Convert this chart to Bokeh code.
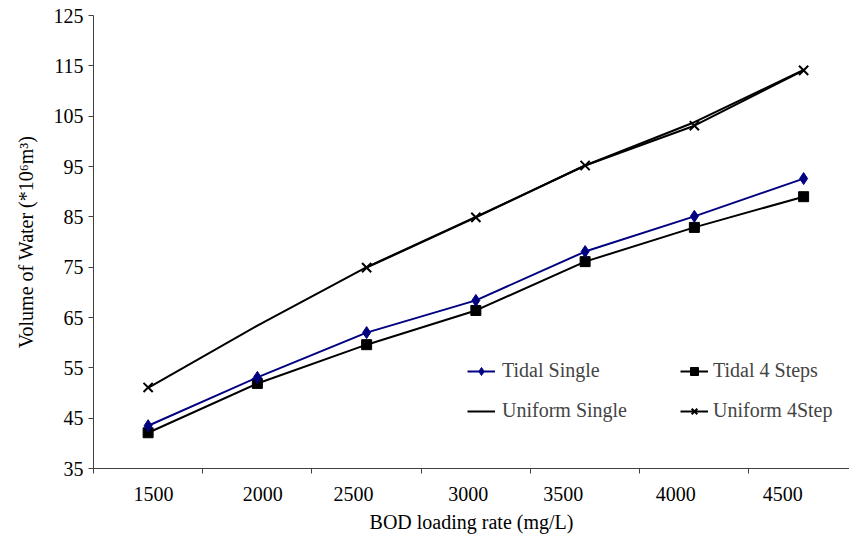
from bokeh.plotting import figure
from bokeh.models import FixedTicker, Legend, LegendItem
from bokeh.embed import file_html
from bokeh.resources import INLINE

nan = float("nan")

categories = ["1500", "2000", "2500", "3000", "3500", "4000", "4500"]
tidal_single = [43.5, 53.1, 62.0, 68.4, 78.1, 85.1, 92.6]
tidal_4steps = [42.1, 51.9, 59.6, 66.4, 76.1, 82.9, 89.0]
uniform_single = [51.0, 63.4, 75.0, 85.0, 95.2, 103.8, 114.2]
uniform_4step = [51.1, nan, 74.9, 84.9, 95.2, 103.1, 114.1]
y_ticks = [35, 45, 55, 65, 75, 85, 95, 105, 115, 125]

# category centres on a numeric axis (one unit per category)
xs = [i + 0.5 for i in range(len(categories))]
# label positions as placed in the reference picture
label_pos = [0.55, 1.55, 2.38, 3.43, 4.30, 5.33, 6.31]
boundaries = list(range(len(categories)))

FONT = "Liberation Serif"

p = figure(width=849, height=540, frame_width=756, frame_height=453,
           x_range=(0, 6.92), y_range=(35, 125),
           output_backend="svg", toolbar_location=None,
           min_border_left=93, min_border_right=0, min_border_top=15,
           min_border_bottom=72)
p.outline_line_color = None
p.xgrid.visible = False
p.ygrid.visible = False
p.background_fill_color = "white"
p.border_fill_color = "white"

r_us = p.line(xs, uniform_single, line_color="black", line_width=2)
r_u4l = p.line(xs, uniform_4step, line_color="black", line_width=2)
r_u4m = p.scatter(xs, uniform_4step, marker="x", size=13, line_color="black", line_width=2)
r_t4l = p.line(xs, tidal_4steps, line_color="black", line_width=2)
r_t4m = p.scatter(xs, tidal_4steps, marker="square", size=10, fill_color="black", line_color="black")
r_tsl = p.line(xs, tidal_single, line_color="#000080", line_width=2)
r_tsm = p.scatter(xs, tidal_single, marker="diamond", size=12, fill_color="#000080", line_color="#000080")

# axes
xa = p.xaxis[0]
xa.ticker = FixedTicker(ticks=label_pos, minor_ticks=boundaries)
xa.major_label_overrides = {pos: lab for pos, lab in zip(label_pos, categories)}
xa.major_tick_out = 0
xa.major_tick_in = 0
xa.minor_tick_out = 5
xa.minor_tick_in = 0
xa.minor_tick_line_color = "#404040"
xa.axis_line_color = "#404040"
xa.major_label_standoff = 13
xa.axis_label = "BOD loading rate (mg/L)"
xa.axis_label_standoff = 7

ya = p.yaxis[0]
ya.ticker = FixedTicker(ticks=y_ticks)
ya.minor_tick_line_color = None
ya.major_tick_out = 5
ya.major_tick_in = 0
ya.major_tick_line_color = "#404040"
ya.axis_line_color = "#404040"
ya.major_label_standoff = 5
ya.axis_label = "Volume of Water (*10\u2076m\u00b3)"
ya.axis_label_standoff = 14

for ax in (xa, ya):
    ax.major_label_text_font = FONT
    ax.major_label_text_font_size = "20px"
    ax.major_label_text_color = "black"
    ax.axis_label_text_font = FONT
    ax.axis_label_text_font_size = "20px"
    ax.axis_label_text_font_style = "normal"
    ax.axis_label_text_color = "black"


def make_legend(items, loc, standoff):
    lg = Legend(items=items, location=loc, orientation="vertical",
                padding=0, margin=0, spacing=17,
                glyph_width=28, glyph_height=20, label_height=20,
                label_standoff=standoff,
                label_text_font=FONT, label_text_font_size="20px",
                border_line_alpha=0, background_fill_alpha=0)
    p.add_layout(lg, "center")
    return lg


make_legend([LegendItem(label="Tidal Single", renderers=[r_tsl, r_tsm]),
             LegendItem(label="Uniform Single", renderers=[r_us])],
            (374, 46), 7)
make_legend([LegendItem(label="Tidal 4 Steps", renderers=[r_t4l, r_t4m]),
             LegendItem(label="Uniform 4Step", renderers=[r_u4l, r_u4m])],
            (587, 46), 5)

open("out.html", "w").write(file_html(p, INLINE))
